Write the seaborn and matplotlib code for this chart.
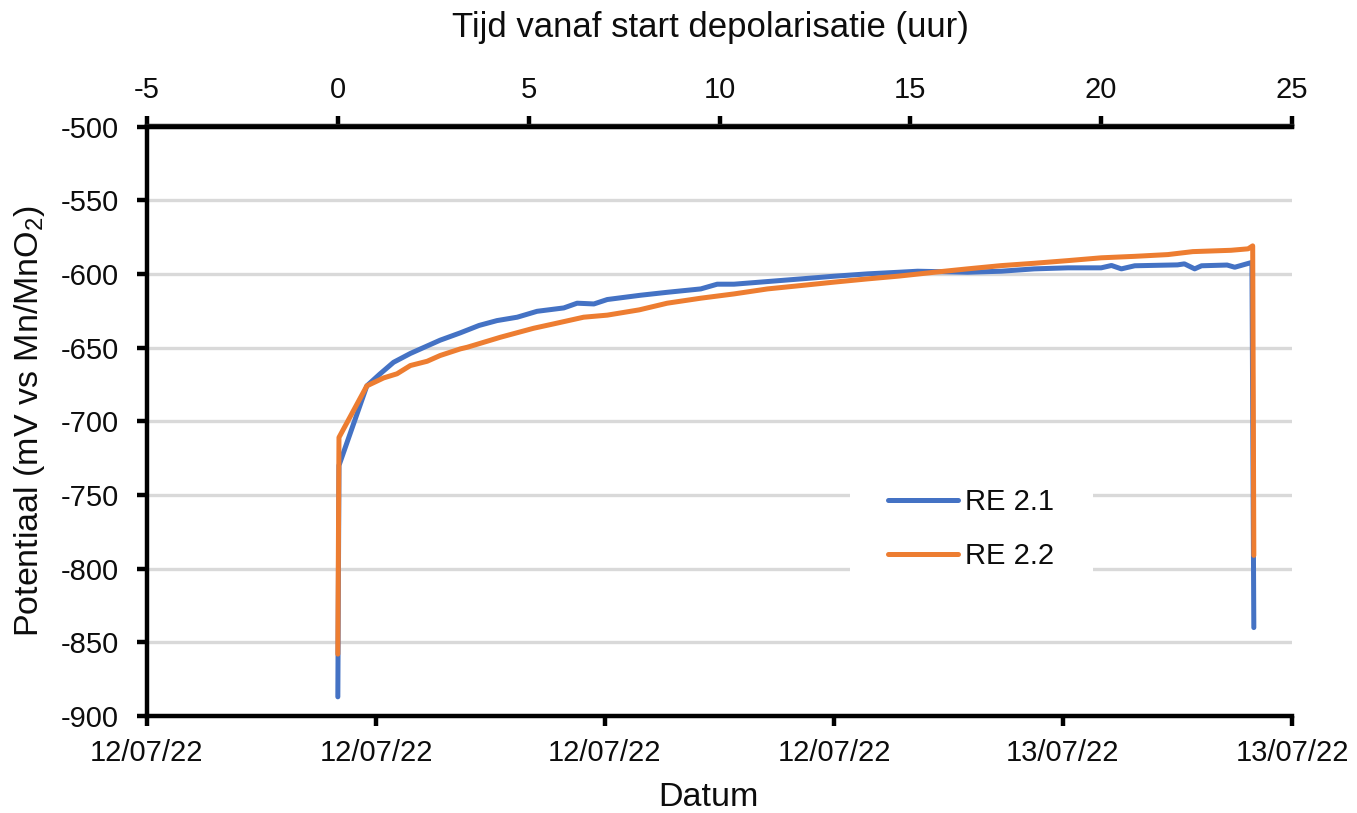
import numpy as np
import pandas as pd
import matplotlib
matplotlib.use("Agg")
import matplotlib.pyplot as plt
from matplotlib.lines import Line2D
import seaborn as sns

# ---- data ----
hours_re21 = [0.00, 0.03, 0.76, 1.10, 1.46, 1.90, 2.16, 2.68, 3.21, 3.70, 4.17, 4.70,
              5.22, 5.92, 6.27, 6.71, 7.06, 7.93, 8.63, 9.51, 9.94, 10.38, 11.26,
              12.14, 13.00, 13.88, 14.70, 15.19, 16.50, 17.38, 18.25, 19.13, 20.00,
              20.27, 20.53, 20.88, 22.00, 22.18, 22.45, 22.63, 23.30, 23.50, 23.95, 24.00]
pot_re21 = [-887, -730, -676, -668, -660, -654, -651, -645, -640, -635, -631.7, -629.4,
            -625.4, -623.1, -619.9, -620.4, -617.4, -614.5, -612.5, -610.2, -607, -607, -605.2,
            -603.4, -601.6, -600, -598.9, -598.2, -598.9, -598.2, -596.6, -595.9, -595.9,
            -594.3, -596.6, -594.5, -593.9, -593.2, -596.6, -594.5, -594, -595.5, -592.2, -840]

hours_re22 = [0.00, 0.03, 0.76, 1.20, 1.55, 1.90, 2.34, 2.68, 3.21, 3.39, 4.26, 5.13,
              5.66, 6.44, 7.06, 7.90, 8.63, 9.51, 10.38, 11.26, 12.14, 13.00, 13.88,
              14.70, 15.63, 16.50, 17.38, 18.25, 19.13, 20.00, 20.88, 21.75, 22.40,
              23.40, 23.85, 23.97, 24.00]
pot_re22 = [-858, -711, -676, -670.6, -667.8, -662.2, -659.3, -655.4, -650.9, -649.8, -643, -636.9,
            -633.9, -629.4, -628, -624.4, -619.9, -616.5, -613.6, -610.2, -607.9, -605.6, -603.4,
            -601.5, -598.9, -596.6, -594.4, -592.8, -591, -589.1, -588.1, -586.9, -584.9,
            -584, -583, -581, -791]

series_names = ["RE 2.1", "RE 2.2"]
series_colors = ["#4472C4", "#ED7D31"]

top_ticks = [-5, 0, 5, 10, 15, 20, 25]
date_tick_hours = [-5, 1, 7, 13, 19, 25]
date_tick_labels = ["12/07/22", "12/07/22", "12/07/22", "12/07/22", "13/07/22", "13/07/22"]
y_ticks = [-500, -550, -600, -650, -700, -750, -800, -850, -900]

df = pd.concat([
    pd.DataFrame({"uur": hours_re21, "pot": pot_re21, "serie": series_names[0]}),
    pd.DataFrame({"uur": hours_re22, "pot": pot_re22, "serie": series_names[1]}),
], ignore_index=True)

# ---- style ----
sns.set_theme(style="white")
plt.rcParams["font.family"] = ["Liberation Sans", "DejaVu Sans"]
plt.rcParams["mathtext.fontset"] = "custom"
plt.rcParams["mathtext.rm"] = "Liberation Sans"
plt.rcParams["mathtext.default"] = "regular"

TXT = "#0d0d0d"
TICK_FS = 21
LABEL_FS = 24.5
SPINE_W = 3.2

fig = plt.figure(figsize=(13.57, 8.13), dpi=100)
ax = fig.add_axes([147 / 1357, 1 - 716 / 813, (1292 - 147) / 1357, (716 - 126.5) / 813])

sns.lineplot(data=df, x="uur", y="pot", hue="serie", palette=series_colors,
             estimator=None, sort=False, linewidth=3.6, legend=False, ax=ax)

ax.set_xlim(-5, 25)
ax.set_ylim(-900, -500)
ax.set_yticks(y_ticks)
ax.set_yticklabels([str(v) for v in y_ticks])
ax.yaxis.grid(True, color="#D9D9D9", linewidth=2.4)
ax.xaxis.grid(False)
ax.set_axisbelow(True)

for side in ["left", "bottom", "top"]:
    ax.spines[side].set_visible(True)
    ax.spines[side].set_color("black")
    ax.spines[side].set_linewidth(SPINE_W)
ax.spines["right"].set_visible(False)

ax.set_xticks(date_tick_hours)
ax.set_xticklabels(date_tick_labels)
ax.tick_params(axis="both", which="major", direction="out", length=7, width=SPINE_W,
               color="black", labelsize=TICK_FS, labelcolor=TXT)
ax.tick_params(axis="x", bottom=True, pad=9.5)
ax.tick_params(axis="y", left=True, pad=13)

secax = ax.secondary_xaxis("top", functions=(lambda v: v, lambda v: v))
secax.set_xticks(top_ticks)
secax.set_xticklabels([str(v) for v in top_ticks])
secax.tick_params(direction="out", length=7, width=SPINE_W, color="black",
                  labelsize=TICK_FS, labelcolor=TXT, pad=9)
secax.spines["top"].set_linewidth(SPINE_W)
secax.set_xlabel("Tijd vanaf start depolarisatie (uur)", fontsize=LABEL_FS + 0.5,
                 color=TXT, labelpad=28)
secax.xaxis.label.set_x(0.4917)

ax.set_xlabel("Datum", fontsize=LABEL_FS, color=TXT, labelpad=11)
ax.xaxis.label.set_x(0.4904)
ax.set_ylabel("Potentiaal (mV vs Mn/MnO$_2$)", fontsize=LABEL_FS, color=TXT, labelpad=10)

handles = [Line2D([0], [0], color=c, linewidth=3.6, solid_capstyle="round") for c in series_colors]
leg = ax.legend(handles, series_names, loc="center", bbox_to_anchor=(0.72, 0.317),
                fontsize=TICK_FS, frameon=True, facecolor="white", edgecolor="white",
                framealpha=1.0, fancybox=False, handlelength=2.4, handletextpad=0.25,
                labelspacing=0.88, borderpad=1.3)
leg.get_frame().set_linewidth(0)
for t in leg.get_texts():
    t.set_color(TXT)

fig.savefig("out.png", dpi=100, facecolor="white")
